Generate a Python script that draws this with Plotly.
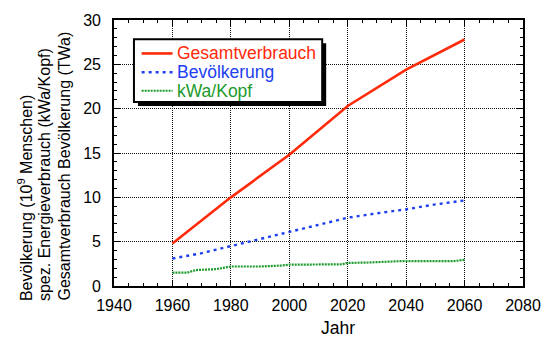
import plotly.graph_objects as go

# Jahresreihen
jahre_gesamt = [1960, 1980, 2000, 2020, 2040, 2060]
gesamtverbrauch = [4.8, 10.0, 14.8, 20.3, 24.4, 27.8]

jahre_bev = [1960, 1970, 1980, 1990, 2000, 2010, 2020, 2030, 2040, 2050, 2060]
bevoelkerung = [3.1, 3.7, 4.5, 5.3, 6.1, 6.9, 7.7, 8.2, 8.65, 9.2, 9.65]

jahre_kopf = [1960, 1965, 1968, 1975, 1980, 1990, 1997, 2000, 2018, 2020, 2027, 2038, 2056, 2060]
kwa_kopf = [1.5, 1.5, 1.8, 1.9, 2.2, 2.2, 2.3, 2.4, 2.45, 2.6, 2.65, 2.8, 2.8, 2.95]

x_ticks = [1940, 1960, 1980, 2000, 2020, 2040, 2060, 2080]
y_ticks = [0, 5, 10, 15, 20, 25, 30]

reihen_namen = ["Gesamtverbrauch", "Bevölkerung", "kWa/Kopf"]
y_titel = [
    "Bevölkerung (10<sup>9</sup> Menschen)",
    "spez. Energieverbrauch (kWa/Kopf)",
    "Gesamtverbrauch Bevölkerung (TWa)",
]

ROT = "#ff2a0a"
BLAU = "#2040f0"
GRUEN = "#1c9a2c"
SCHRIFT = "Liberation Sans, Arial, Helvetica"

linien = [
    dict(color=ROT, width=2.6),
    dict(color=BLAU, width=2.4, dash="3px,4px"),
    dict(color=GRUEN, width=2.2, dash="2px,1px"),
]

fig = go.Figure()
for xs, ys, name, ln in zip([jahre_gesamt, jahre_bev, jahre_kopf],
                            [gesamtverbrauch, bevoelkerung, kwa_kopf],
                            reihen_namen, linien):
    fig.add_trace(go.Scatter(x=xs, y=ys, mode="lines", line=ln, name=name,
                             showlegend=False))

achse = dict(
    showline=True, linecolor="black", linewidth=1.6, mirror="ticks",
    ticks="inside", ticklen=6, tickwidth=1, tickcolor="black",
    showgrid=True, gridcolor="#111", gridwidth=1, griddash="1px,1px",
    zeroline=False,
    tickfont=dict(family=SCHRIFT, size=16, color="black"),
)

fig.update_xaxes(**achse, range=[1940, 2080], tickvals=x_ticks, ticklabelstandoff=4,
                 minor=dict(dtick=5, ticks="inside", ticklen=3, tickcolor="black", showgrid=False))
fig.update_yaxes(**achse, range=[0, 30], tickvals=y_ticks, ticklabelstandoff=8,
                 minor=dict(dtick=1, ticks="inside", ticklen=3, tickcolor="black", showgrid=False))

# Pixel -> Papierkoordinaten (Plotfläche 114..524 x 18..286)
def px(xp):
    return (xp - 114) / 410

def py(yp):
    return (286 - yp) / 268

annos = []
# Achsentitel y (drei Zeilen, linksbündig)
for i, (txt, xc) in enumerate(zip(y_titel, [25, 44.5, 64])):
    annos.append(dict(text=txt, xref="paper", yref="paper", x=px(xc), y=py(303),
                      xanchor="center", yanchor="bottom", textangle=-90,
                      showarrow=False, font=dict(family=SCHRIFT, size=16, color="black")))
# Achsentitel x
annos.append(dict(text="Jahr", xref="paper", yref="paper", x=px(339), y=py(328),
                  xanchor="center", yanchor="middle", showarrow=False,
                  font=dict(family=SCHRIFT, size=17.5, color="black")))

# Legende: Kasten mit Schatten, Linienmuster, Beschriftung
shapes = [
    dict(type="rect", xref="paper", yref="paper", x0=px(138), x1=px(326.7),
         y0=py(104.7), y1=py(41.3), fillcolor="black", line=dict(width=0), layer="above"),
    dict(type="rect", xref="paper", yref="paper", x0=px(134), x1=px(322.7),
         y0=py(100.7), y1=py(37.3), fillcolor="white",
         line=dict(color="black", width=2), layer="above"),
]
for name, ln, yc in zip(reihen_namen, linien, [51.7, 70.7, 89.3]):
    shapes.append(dict(type="line", xref="paper", yref="paper",
                       x0=px(141.7), x1=px(172.7), y0=py(yc), y1=py(yc),
                       line=ln, layer="above"))
    annos.append(dict(text=name, xref="paper", yref="paper", x=px(175.5), y=py(yc),
                      xanchor="left", yanchor="middle", showarrow=False,
                      font=dict(family=SCHRIFT, size=17.5, color=ln["color"])))

fig.update_layout(
    width=553, height=340,
    margin=dict(l=114, r=29, t=18, b=54),
    plot_bgcolor="white", paper_bgcolor="white",
    showlegend=False,
    shapes=shapes,
    annotations=annos,
)

fig.write_html("out.html")
